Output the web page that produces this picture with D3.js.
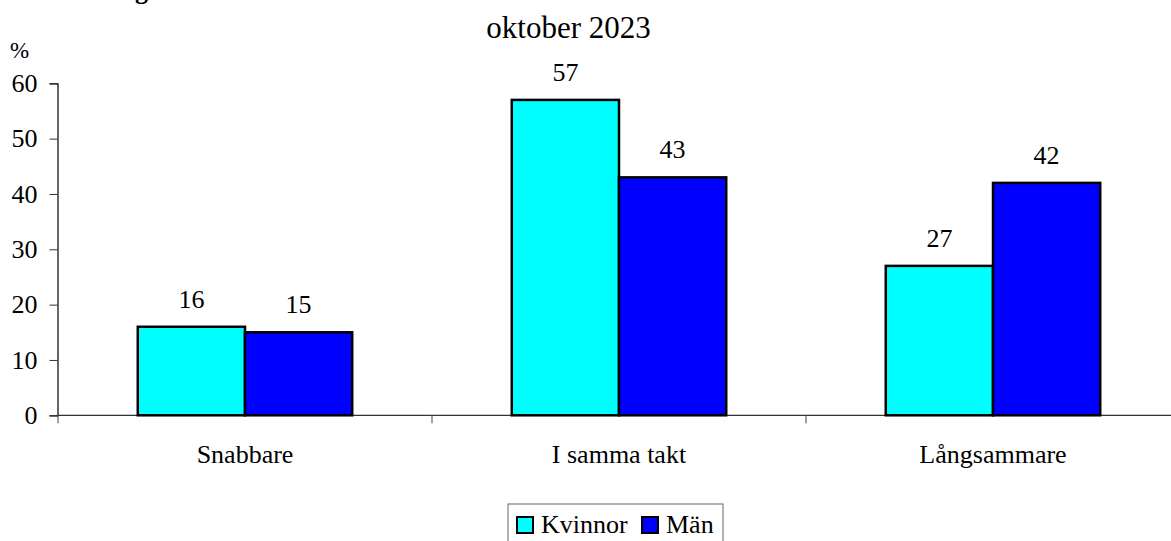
<!DOCTYPE html>
<html><head><meta charset="utf-8">
<script src="https://cdn.jsdelivr.net/npm/d3@7"></script>
<style>
html,body{margin:0;padding:0;background:#fff;overflow:hidden;}
svg{display:block;}
</style></head>
<body>
<script>
const categories = ["Snabbare", "I samma takt", "Långsammare"];
const seriesNames = ["Kvinnor", "Män"];
const kvinnor = [16, 57, 27];
const man = [15, 43, 42];
const yTicks = [0, 10, 20, 30, 40, 50, 60];
const colors = ["#00FFFF", "#0000FF"];
const titleText = "oktober 2023";
const clippedTitle = "Diagram";
const FONT = "'Liberation Serif', 'Times New Roman', serif";

const W = 1171, H = 541;
const svg = d3.select("body").append("svg").attr("width", W).attr("height", H)
  .style("font-family", FONT);

const y = d3.scaleLinear().domain([0, 60]).range([415.3, 83.3]);
const x0 = d3.scaleBand().domain(categories).range([58, 1180]).padding(0);
const x1 = d3.scaleBand().domain(seriesNames).range([0, x0.bandwidth()]).paddingInner(0).paddingOuter(0.744);

const values = [kvinnor, man];

function T(sel) { return sel.style("font-family", FONT).attr("fill", "#000"); }

// clipped title line (only descender visible, as in the reference)
T(svg.append("text").attr("x", 96).attr("y", -1).attr("font-size", 26).attr("font-weight", "bold").text(clippedTitle));

// title
T(svg.append("text").attr("x", 568.5).attr("y", 38).attr("text-anchor", "middle").attr("font-size", 31).text(titleText));

// % label
T(svg.append("text").attr("x", 10).attr("y", 58).attr("font-size", 23).text("%"));

// y axis
const yAxis = svg.append("g").attr("transform", "translate(57.5,0)")
  .call(d3.axisLeft(y).tickValues(yTicks).tickSize(8).tickPadding(12).tickFormat(d3.format("d")));
yAxis.attr("font-family", null).attr("font-size", null);
yAxis.select(".domain").attr("stroke", "#000").attr("stroke-width", 1.2);
yAxis.selectAll(".tick line").attr("stroke", "#333");
T(yAxis.selectAll(".tick text").attr("font-size", 26));

// x axis
const xAxis = svg.append("g").attr("transform", `translate(0,${y(0)})`);
xAxis.append("line").attr("x1", 58).attr("x2", W).attr("y1", 0).attr("y2", 0).attr("stroke", "#333").attr("stroke-width", 1.2);
const boundaries = categories.map(c => x0(c));
xAxis.selectAll("line.tk").data(boundaries).join("line").attr("class", "tk")
  .attr("x1", d => d).attr("x2", d => d).attr("y1", 0).attr("y2", 8).attr("stroke", "#444");
T(xAxis.selectAll("text.cat").data(categories).join("text").attr("class", "cat")
  .attr("x", d => x0(d) + x0.bandwidth() / 2).attr("y", 48)
  .attr("text-anchor", "middle").attr("font-size", 26).text(d => d));

// bars
const flat = [];
categories.forEach((c, i) => seriesNames.forEach((s, j) => flat.push({c, s, j, v: values[j][i]})));
svg.selectAll("rect.bar").data(flat).join("rect").attr("class", "bar")
  .attr("x", d => x0(d.c) + x1(d.s)).attr("y", d => y(d.v))
  .attr("width", x1.bandwidth()).attr("height", d => y(0) - y(d.v))
  .attr("fill", d => colors[d.j]).attr("stroke", "#000").attr("stroke-width", 2.5);

T(svg.selectAll("text.val").data(flat).join("text").attr("class", "val")
  .attr("x", d => x0(d.c) + x1(d.s) + x1.bandwidth() / 2).attr("y", d => y(d.v) - 19)
  .attr("text-anchor", "middle").attr("font-size", 26).text(d => d.v));

// legend
const lg = svg.append("g");
lg.append("rect").attr("x", 508).attr("y", 504).attr("width", 215).attr("height", 44)
  .attr("fill", "#fff").attr("stroke", "#666").attr("stroke-width", 1);
const lx = [517, 642];
seriesNames.forEach((s, j) => {
  lg.append("rect").attr("x", lx[j]).attr("y", 517).attr("width", 16).attr("height", 16)
    .attr("fill", colors[j]).attr("stroke", "#000").attr("stroke-width", 2);
  T(lg.append("text").attr("x", lx[j] + 24).attr("y", 533).attr("font-size", 26).text(s));
});
</script>
</body></html>
